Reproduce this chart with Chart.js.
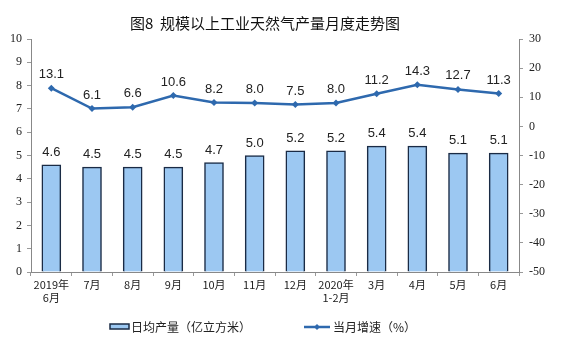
<!DOCTYPE html>
<html><head><meta charset="utf-8">
<script src="https://cdn.jsdelivr.net/npm/chart.js@4/dist/chart.umd.min.js"></script>
<style>html,body{margin:0;padding:0;background:#fff}#wrap{position:relative;width:561px;height:357px}</style>
</head><body><div id="wrap"><canvas id="c" width="561" height="357"></canvas></div>
<script>
const categories = [["2019年","6月"],"7月","8月","9月","10月","11月","12月",["2020年","1-2月"],"3月","4月","5月","6月"];
const dailyOutput = [4.6,4.5,4.5,4.5,4.7,5.0,5.2,5.2,5.4,5.4,5.1,5.1];
const monthlyGrowth = [13.1,6.1,6.6,10.6,8.2,8.0,7.5,8.0,11.2,14.3,12.7,11.3];
const titleText = "图8  规模以上工业天然气产量月度走势图";
const barLegend = "日均产量（亿立方米）";
const lineLegend = "当月增速（%）";

const CJK = '"Noto Sans CJK SC", "Noto Sans", sans-serif';
const BAR_FILL = '#9CC8F2', BAR_BORDER = '#1a2b45', LINE_COL = '#2E69AE';

const labelPlugin = {
  id:'labels',
  afterDatasetsDraw(chart){
    const ctx = chart.ctx;
    ctx.save();
    ctx.font = '13px "Liberation Sans", Arial, sans-serif';
    ctx.fillStyle = '#222';
    ctx.textAlign = 'center';
    ctx.textBaseline = 'bottom';
    chart.getDatasetMeta(0).data.forEach((el,i)=>{
      ctx.fillText(dailyOutput[i].toFixed(1), el.x, el.y - 6);
    });
    chart.getDatasetMeta(1).data.forEach((el,i)=>{
      ctx.fillText(monthlyGrowth[i].toFixed(1), el.x, el.y - 7);
    });
    // title
    ctx.font = '15px ' + CJK;
    ctx.fillStyle = '#111';
    ctx.textBaseline = 'middle';
    ctx.fillText(titleText, 265, 23);
    // legend
    ctx.textAlign = 'left';
    ctx.font = '12px ' + CJK;
    ctx.fillStyle = '#222';
    ctx.fillStyle = BAR_FILL;
    ctx.strokeStyle = BAR_BORDER;
    ctx.lineWidth = 1.5;
    ctx.fillRect(110, 324, 19, 5);
    ctx.strokeRect(110, 324, 19, 5);
    ctx.fillStyle = '#222';
    ctx.fillText(barLegend, 131, 327);
    ctx.strokeStyle = LINE_COL;
    ctx.lineWidth = 2.5;
    ctx.beginPath(); ctx.moveTo(304, 327); ctx.lineTo(330, 327); ctx.stroke();
    ctx.fillStyle = LINE_COL;
    ctx.beginPath(); ctx.moveTo(317,324); ctx.lineTo(320,327); ctx.lineTo(317,330); ctx.lineTo(314,327); ctx.closePath(); ctx.fill();
    ctx.fillStyle = '#222';
    ctx.fillText(lineLegend, 333, 327);
    ctx.restore();
  }
};

new Chart(document.getElementById('c'), {
  type:'bar',
  data:{
    labels:categories,
    datasets:[
      {type:'bar', data:dailyOutput, yAxisID:'y', backgroundColor:BAR_FILL, borderColor:BAR_BORDER, borderWidth:1.5, barThickness:19, order:2},
      {type:'line', data:monthlyGrowth, yAxisID:'y1', borderColor:LINE_COL, backgroundColor:LINE_COL, borderWidth:2.5, pointStyle:'rectRot', pointRadius:3.5, pointBorderWidth:0, tension:0, order:1}
    ]
  },
  options:{
    responsive:false, animation:false,
    layout:{padding:{top:39,left:0,right:0,bottom:0}},
    plugins:{legend:{display:false}, tooltip:{enabled:false}, title:{display:false}},
    scales:{
      x:{
        offset:true,
        grid:{offset:true, drawOnChartArea:false, drawTicks:true, tickLength:4, color:'#999'},
        border:{display:true, color:'#888'},
        ticks:{color:'#222', font:{family:CJK, size:11}, maxRotation:0, autoSkip:false, padding:2},
        afterFit(s){ s.height = 85; }
      },
      y:{
        position:'left', min:0, max:10,
        ticks:{stepSize:1, color:'#222', font:{family:'"Liberation Serif", serif', size:12}, padding:5},
        grid:{drawOnChartArea:false, drawTicks:true, tickLength:4, color:'#999'},
        border:{display:true, color:'#888'},
        afterFit(s){ s.width = 31; }
      },
      y1:{
        position:'right', min:-50, max:30,
        ticks:{stepSize:10, color:'#222', font:{family:'"Liberation Serif", serif', size:12}, padding:6},
        grid:{drawOnChartArea:false, drawTicks:true, tickLength:4, color:'#999'},
        border:{display:true, color:'#888'},
        afterFit(s){ s.width = 42; }
      }
    }
  },
  plugins:[labelPlugin]
});
</script></body></html>
